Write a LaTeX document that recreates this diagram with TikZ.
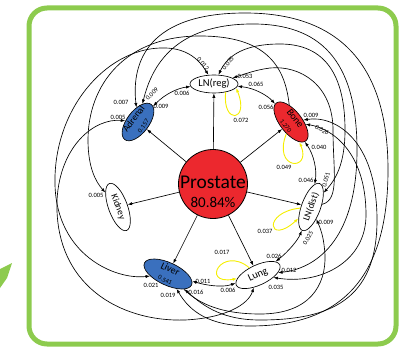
\documentclass[tikz,border=0pt]{standalone}
\usepackage{fontspec}
\setmainfont{Carlito}
\usetikzlibrary{arrows.meta,shapes.geometric}
\definecolor{grn}{RGB}{141,203,78}
\definecolor{rd}{RGB}{236,40,46}
\definecolor{bl}{RGB}{58,112,190}
\definecolor{yl}{RGB}{245,238,0}
\begin{document}
\begin{tikzpicture}[x=1pt,y=-1pt,
 ell/.style={ellipse, draw=black, line width=0.65pt, inner sep=-1pt, align=center},
 arr/.style={line width=0.65pt, -{Latex[length=4.5pt,width=3.2pt]}},
 arrb/.style={line width=0.65pt, {Latex[length=4.5pt,width=3.2pt]}-{Latex[length=4.5pt,width=3.2pt]}},
 lp/.style={draw=yl, line width=0.9pt, -{Latex[length=4.5pt,width=3.2pt]}},
 lab/.style={font=\fontsize{6.5}{7}\selectfont, inner sep=0pt}]
\useasboundingbox (0,0) rectangle (403,347);
% frame and green arrow
\draw[grn, line width=5pt, rounded corners=18pt] (29,8) rectangle (396,344);
\fill[grn] (12,263) -- (0,269) -- (0,288) -- (7,278) -- cycle;
% nodes
\node[circle, draw, line width=0.8pt, fill=rd, minimum size=69pt, inner sep=0pt] (P) at (213,184)
 {\makebox[0pt]{\raisebox{-4.5pt}[0pt][0pt]{\fontsize{19.5}{20}\selectfont Prostate}}\makebox[0pt]{\raisebox{-23pt}[0pt][0pt]{\fontsize{15}{16}\selectfont 80.84\%}}};
\node[ell, fill=white, minimum width=48pt, minimum height=18pt, font=\fontsize{10.5}{11}\selectfont] (R) at (214,84) {LN(reg)};
\node[ell, fill=bl, rotate=53, minimum width=44pt, minimum height=19pt] (A) at (138,122) {\fontsize{9.5}{8}\selectfont Adrenal\\[-1pt]\fontsize{6.5}{6}\selectfont 0.157};
\node[ell, fill=rd, rotate=-52, minimum width=48pt, minimum height=21pt] (B) at (291,122) {\fontsize{10}{8}\selectfont Bone\\[-1pt]\fontsize{6.5}{6}\selectfont 1.270};
\node[ell, fill=white, rotate=-70, minimum width=50pt, minimum height=19pt, font=\fontsize{9.5}{10}\selectfont] (K) at (118,207) {Kidney};
\node[ell, fill=bl, rotate=-25, minimum width=52pt, minimum height=20pt] (Li) at (168,274) {\fontsize{10}{8}\selectfont Liver\\[-1pt]\fontsize{6.5}{6}\selectfont 0.541};
\node[ell, fill=white, rotate=25, minimum width=48pt, minimum height=20pt, font=\fontsize{10.5}{11}\selectfont] (Lu) at (258,275) {Lung};
\node[ell, fill=white, rotate=70, minimum width=50pt, minimum height=19pt, font=\fontsize{9.5}{10}\selectfont] (D) at (311,207) {LN(dist)};
% edges from prostate
\draw[arr] (P) -- (R);
\draw[arr] (P) -- (A);
\draw[arr] (P) -- (K);
\draw[arr] (P) -- (Li);
\draw[arr] (P) -- (Lu);
\draw[arr] (P) -- (D);
\draw[arr] (P) -- (B);
% short two-way edges
\draw[arrb] (A) .. controls (165,94) and (178,88) .. (R);
\draw[arrb] (R) .. controls (255,88) and (268,96) .. (B);
\draw[arrb] (B) .. controls (314,155) and (317,170) .. (D);
\draw[arrb] (D) .. controls (298,240) and (288,252) .. (Lu);
\draw[arrb] (Li) .. controls (205,285) and (222,288) .. (Lu);
% long curves
\draw[arrb] (A) .. controls (131,60) and (150,13) .. (245,13) .. controls (335,13) and (388,60) .. (388,170) .. controls (388,290) and (330,326) .. (250,326) .. controls (210,326) and (190,312) .. (Li);
\draw[arrb] (B) .. controls (335,115) and (377,140) .. (377,220) .. controls (377,300) and (330,320) .. (260,320) .. controls (225,320) and (205,308) .. (Li);
\draw[arrb] (B) .. controls (330,128) and (366,150) .. (366,215) .. controls (366,262) and (320,285) .. (Lu);
\draw[arrb] (A) .. controls (152,65) and (175,25) .. (250,24) .. controls (320,23) and (357,60) .. (357,150) .. controls (357,235) and (320,268) .. (Lu);
\draw[arrb] (R) .. controls (228,55) and (245,44) .. (280,44) .. controls (325,44) and (345,75) .. (345,130) .. controls (345,165) and (335,180) .. (D);
\draw[arr] (D) .. controls (340,200) and (333,170) .. (333,130) .. controls (333,85) and (300,65) .. (270,68) .. controls (255,70) and (245,74) .. (R);
\draw[arr] (B) .. controls (285,65) and (265,36) .. (200,36) .. controls (125,36) and (88,85) .. (88,140) .. controls (88,168) and (96,182) .. (K);
\draw[arrb] (Li) .. controls (115,280) and (57,255) .. (55,185) .. controls (53,110) and (105,50) .. (160,48) .. controls (185,47) and (198,58) .. (R);
\draw[arrb] (A) .. controls (95,118) and (60,145) .. (57,200) .. controls (54,285) and (120,322) .. (185,320) .. controls (225,318) and (248,305) .. (Lu);
\draw[arr] (Li) .. controls (195,300) and (215,314) .. (260,314) .. controls (310,314) and (326,285) .. (325,255) .. controls (324,240) and (322,232) .. (D);
% self loops
\draw[lp] (R.-35) .. controls (222,125) and (250,122) .. (R.-10);
\draw[lp] (B) .. controls (272,170) and (312,172) .. (B);
\draw[lp] (D) .. controls (262,212) and (268,246) .. (D);
\draw[lp] (Lu) .. controls (222,245) and (200,285) .. (Lu);
% edge labels
\node[lab, rotate=-50] (l1) at (203,64) {0.012};
\node[lab, rotate=50] (l2) at (228,63) {0.035};
\node[lab] (l3) at (245,76) {0.053};
\node[lab] (l4) at (256,84) {0.065};
\node[lab] (l5) at (182,93) {0.006};
\node[lab] (l6) at (241,120) {0.072};
\node[lab] (l7) at (266,107) {0.056};
\node[lab] (l8) at (311,115) {0.009};
\node[lab, rotate=-30] (l9) at (322,130) {0.026};
\node[lab] (l10) at (319,147) {0.040};
\node[lab] (l11) at (284,167) {0.049};
\node[lab] (l12) at (306,180) {0.046};
\node[lab, rotate=75] (l13) at (326,180) {0.051};
\node[lab] (l14) at (326,222) {0.009};
\node[lab] (l15) at (265,231) {0.037};
\node[lab, rotate=60] (l16) at (308,238) {0.025};
\node[lab] (l17) at (274,256) {0.026};
\node[lab] (l18) at (289,270) {0.012};
\node[lab] (l19) at (276,287) {0.035};
\node[lab] (l20) at (222,252) {0.017};
\node[lab] (l21) at (228,290) {0.006};
\node[lab] (l22) at (203,281) {0.011};
\node[lab] (l23) at (196,292) {0.016};
\node[lab] (l24) at (168,295) {0.019};
\node[lab] (l25) at (151,285) {0.021};
\node[lab] (l26) at (96,195) {0.005};
\node[lab] (l27) at (121,102) {0.007};
\node[lab, rotate=45] (l28) at (152,94) {0.009};
\node[lab] (l29) at (161,106) {0.009};
\node[lab] (l30) at (118,117) {0.005};
\end{tikzpicture}
\end{document}
